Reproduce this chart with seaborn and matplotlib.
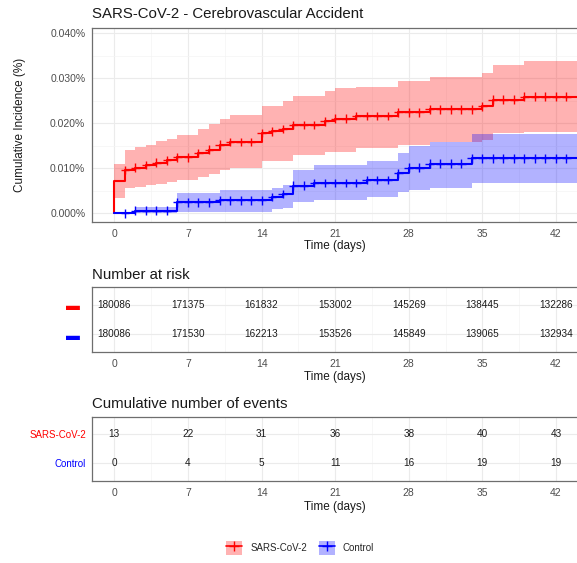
import numpy as np
import pandas as pd
import seaborn as sns
import matplotlib.pyplot as plt
from matplotlib.patches import Patch
from matplotlib.lines import Line2D
from matplotlib.ticker import MultipleLocator, FuncFormatter

# 阶梯曲线数据（单位：%）
red_time = [0, 1, 2, 3, 4, 5, 6, 8, 9, 10, 11, 14, 15, 16, 17, 20, 21, 23, 27, 30, 35, 36, 39, 44]
red_est = [0.0071, 0.0096, 0.0101, 0.0107, 0.0112, 0.0118, 0.0124, 0.0134, 0.0141, 0.0152, 0.0158,
           0.0178, 0.0182, 0.0187, 0.0196, 0.0204, 0.0210, 0.0216, 0.0224, 0.0231, 0.0237, 0.0252,
           0.0259, 0.0259]
red_upper = [0.0110, 0.0140, 0.0146, 0.0151, 0.0160, 0.0165, 0.0173, 0.0186, 0.0197, 0.0210, 0.0217,
             0.0239, 0.0239, 0.0248, 0.0261, 0.0272, 0.0278, 0.0281, 0.0294, 0.0302, 0.0311, 0.0328,
             0.0337, 0.0337]
red_lower = [0.0033, 0.0057, 0.0059, 0.0063, 0.0066, 0.0070, 0.0074, 0.0081, 0.0087, 0.0096, 0.0100,
             0.0115, 0.0115, 0.0115, 0.0130, 0.0137, 0.0137, 0.0144, 0.0152, 0.0159, 0.0163, 0.0178,
             0.0181, 0.0181]

blue_time = [0, 2, 6, 10, 15, 16, 17, 19, 24, 27, 28, 30, 34, 44]
blue_est = [0.0, 0.0006, 0.0024, 0.0029, 0.0036, 0.0043, 0.0061, 0.0067, 0.0074, 0.0089, 0.0101,
            0.0110, 0.0122, 0.0122]
blue_upper = [0.0, 0.0015, 0.0044, 0.0052, 0.0056, 0.0063, 0.0096, 0.0107, 0.0115, 0.0133, 0.0150,
              0.0159, 0.0176, 0.0176]
blue_lower = [0.0, 0.0001, 0.0003, 0.0004, 0.0009, 0.0011, 0.0026, 0.0030, 0.0037, 0.0048, 0.0052,
              0.0056, 0.0067, 0.0067]

# 风险表
table_days = [0, 7, 14, 21, 28, 35, 42]
risk_sars = [180086, 171375, 161832, 153002, 145269, 138445, 132286]
risk_ctrl = [180086, 171530, 162213, 153526, 145849, 139065, 132934]
events_sars = [13, 22, 31, 36, 38, 40, 43]
events_ctrl = [0, 4, 5, 11, 16, 19, 19]

groups = ['SARS-CoV-2', 'Control']
colors = {'SARS-CoV-2': '#FF0000', 'Control': '#0000FF'}

sns.set_style('white')
plt.rcParams['font.family'] = ['Liberation Sans', 'DejaVu Sans']

W, H = 577, 563
fig = plt.figure(figsize=(W / 100, H / 100), dpi=100)


def box(left, top, right, bottom):
    return [left / W, 1 - bottom / H, (right - left) / W, (bottom - top) / H]


XLIM = (-2.1, 44.0)
grid_major = '#EBEBEB'
grid_minor = '#F4F4F4'
border = '#6E6E6E'
tick_col = '#4D4D4D'


def style_axes(ax):
    ax.set_xlim(*XLIM)
    ax.xaxis.set_major_locator(MultipleLocator(7))
    ax.xaxis.set_minor_locator(MultipleLocator(3.5))
    ax.grid(which='major', color=grid_major, lw=0.8)
    ax.grid(which='minor', color=grid_minor, lw=0.5)
    ax.set_axisbelow(True)
    for s in ['top', 'left', 'bottom']:
        ax.spines[s].set_color(border)
        ax.spines[s].set_linewidth(0.9)
    ax.spines['right'].set_visible(False)
    ax.tick_params(axis='x', which='major', length=3, width=0.8, color='#333333',
                   labelsize=7.5, labelcolor=tick_col, pad=2)
    ax.tick_params(which='minor', length=0)
    ax.set_xlabel('Time (days)', fontsize=8.5, color='#1a1a1a', labelpad=2)


# 主图
ax = fig.add_axes(box(92.3, 28, 577, 221.7))
style_axes(ax)

curves = [
    ('SARS-CoV-2', red_time, red_est, red_lower, red_upper),
    ('Control', blue_time, blue_est, blue_lower, blue_upper),
]
frames = []
marks = []
for g, t, est, lo, up in curves:
    ax.fill_between(t, lo, up, step='post', color=colors[g], alpha=0.3, lw=0)
    # 曲线从 0 开始
    frames.append(pd.DataFrame({'time': [0] + t, 'est': [0.0] + est, 'group': g}))
    cens_t = np.arange(1, 44)
    idx = np.searchsorted(t, cens_t, side='right') - 1
    marks.append(pd.DataFrame({'time': cens_t, 'est': np.array(est)[idx], 'group': g}))
df = pd.concat(frames)
dm = pd.concat(marks)
sns.lineplot(data=df, x='time', y='est', hue='group', palette=colors, hue_order=groups,
             drawstyle='steps-post', lw=1.5, ax=ax, legend=False, estimator=None, sort=False)
sns.scatterplot(data=dm, x='time', y='est', hue='group', palette=colors, hue_order=groups,
                marker='+', s=40, linewidth=1.0, ax=ax, legend=False, zorder=4)
ax.set_ylim(-0.00186, 0.0411)
ax.yaxis.set_major_locator(MultipleLocator(0.01))
ax.yaxis.set_minor_locator(MultipleLocator(0.005))
ax.yaxis.set_major_formatter(FuncFormatter(lambda v, p: f'{v:.3f}%'))
ax.tick_params(axis='y', which='major', length=3, width=0.8, color='#333333',
               labelsize=7.5, labelcolor=tick_col, pad=2)
ax.set_xlabel('Time (days)', fontsize=8.5, color='#1a1a1a', labelpad=1)
ax.set_ylabel('Cumulative Incidence (%)', fontsize=8.5, color='#1a1a1a', labelpad=17)
ax.set_title('SARS-CoV-2 - Cerebrovascular Accident', loc='left', fontsize=10.8,
             color='#1a1a1a', pad=7)

# 风险人数表
ax2 = fig.add_axes(box(92.3, 287.3, 577, 351.7))
style_axes(ax2)
ax2.set_ylim(0.4, 2.6)
ax2.set_yticks([1, 2])
ax2.set_yticklabels(['▬', '▬'], fontsize=10)
for lab, g in zip(ax2.get_yticklabels(), ['Control', 'SARS-CoV-2']):
    lab.set_color(colors[g])
ax2.tick_params(axis='y', length=0, pad=9)
for x, a, b in zip(table_days, risk_sars, risk_ctrl):
    ax2.text(x, 2, str(a), ha='center', va='center', fontsize=7.2, color='#1a1a1a', clip_on=True)
    ax2.text(x, 1, str(b), ha='center', va='center', fontsize=7.2, color='#1a1a1a', clip_on=True)
ax2.set_ylabel('')
ax2.set_title('Number at risk', loc='left', fontsize=10.8, color='#1a1a1a', pad=6)

# 累计事件数表
ax3 = fig.add_axes(box(92.3, 416.7, 577, 481))
style_axes(ax3)
ax3.set_ylim(0.4, 2.6)
ax3.set_yticks([1, 2])
ax3.set_yticklabels(['Control', 'SARS-CoV-2'], fontsize=7)
for lab, g in zip(ax3.get_yticklabels(), ['Control', 'SARS-CoV-2']):
    lab.set_color(colors[g])
ax3.tick_params(axis='y', length=3, width=0.8, color='#333333', pad=1.5)
for x, a, b in zip(table_days, events_sars, events_ctrl):
    ax3.text(x, 2, str(a), ha='center', va='center', fontsize=7.2, color='#1a1a1a', clip_on=True)
    ax3.text(x, 1, str(b), ha='center', va='center', fontsize=7.2, color='#1a1a1a', clip_on=True)
ax3.set_ylabel('')
ax3.set_title('Cumulative number of events', loc='left', fontsize=10.8, color='#1a1a1a', pad=6)

# 图例
handles = [(Patch(facecolor=colors[g], alpha=0.3, lw=0),
            Line2D([], [], color=colors[g], lw=1.2, marker='+', markersize=7)) for g in groups]
fig.legend(handles, groups, loc='center', bbox_to_anchor=(300 / W, 1 - 548 / H), ncol=2,
           frameon=False, fontsize=7, handlelength=1.7, handleheight=1.7, columnspacing=1.2,
           handletextpad=0.8)

plt.savefig('out.png', dpi=100)
